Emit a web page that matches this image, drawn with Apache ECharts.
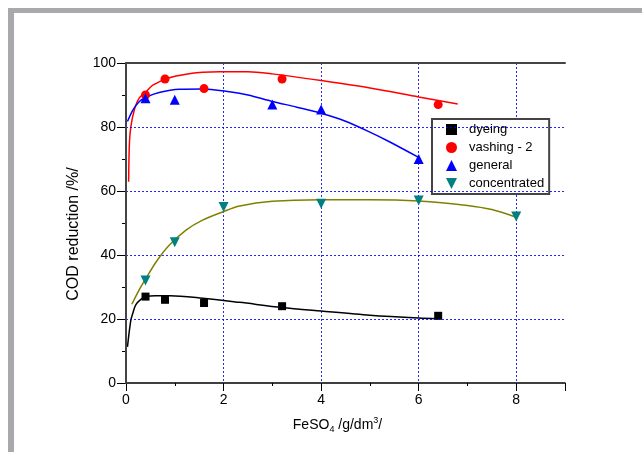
<!DOCTYPE html>
<html>
<head>
<meta charset="utf-8">
<script src="https://cdn.jsdelivr.net/npm/echarts@6/dist/echarts.min.js"></script>
<style>
html, body { margin: 0; padding: 0; background: #fff; }
#chart { width: 642px; height: 452px; }
</style>
</head>
<body>
<div id="chart"></div>
<script>
// measured points [FeSO4, COD reduction]
const dyeing = [[0.4, 27], [0.8, 26], [1.6, 25], [3.2, 24], [6.4, 21]]
const vashing = [[0.4, 90], [0.8, 95], [1.6, 92], [3.2, 95], [6.4, 87]]
const general = [[0.4, 89], [1.0, 88.5], [3.0, 87], [4.0, 85.5], [6.0, 70]]
const concentrated = [[0.4, 32], [1.0, 44], [2.0, 55], [4.0, 56], [6.0, 57], [8.0, 52]]

// fitted curves
const dyeingFit = [[0.03, 11.3], [0.1, 19.7], [0.14, 21.8], [0.2, 24.4], [0.31, 26.2], [0.41, 27], [0.6, 27.3], [0.9, 27.3],
  [1.57, 26.5], [2.33, 25.2], [3.2, 23.6], [4, 22.5], [5, 21.2], [6, 20.3], [6.4, 20.1]]
const vashingFit = [[0.054, 62.9], [0.07, 74.9], [0.1, 80.1], [0.17, 85.3], [0.27, 89], [0.41, 91], [0.55, 93.1], [0.89, 95.4],
  [1.23, 96.5], [1.57, 97.1], [1.92, 97.3], [2.5, 97.3], [3, 96.6], [4, 94.5], [5, 92.2], [6, 89.4], [6.8, 87.2]]
const generalFit = [[0.03, 81.7], [0.14, 85.3], [0.27, 87.9], [0.41, 89.3], [0.68, 90.8], [1.1, 91.8], [1.57, 91.9], [2.12, 91],
  [2.5, 90], [3, 88], [3.5, 86.2], [4, 84.3], [4.5, 81.8], [5, 78.4], [5.4, 75.4], [6, 70.5]]
const concentratedFit = [[0.12, 24.6], [0.27, 29.1], [0.41, 32.7], [0.62, 37.9], [0.89, 43.1], [1.23, 47.8], [1.57, 50.9],
  [1.99, 53.5], [2.33, 55.3], [3, 56.8], [4, 57.3], [5, 57.3], [6, 56.9], [7, 55.5], [7.5, 54.2], [8, 51.8]]

const FONT = '"Liberation Sans", Arial, sans-serif'
const gridLine = { show: true, showMinLine: false, showMaxLine: false, lineStyle: { color: '#0000ff', type: [2, 2], width: 1, opacity: 0.85 } }

function fitSeries (data, color) {
  return {
    type: 'line', data: data, smooth: 0.3, symbol: 'none', silent: true,
    lineStyle: { color: color, width: 1.5 }, z: 3
  }
}
function pointSeries (name, data, symbol, size, color, rotate) {
  return {
    name: name, type: 'scatter', data: data, symbol: symbol, symbolSize: size,
    symbolRotate: rotate || 0, itemStyle: { color: color, opacity: 1 }, z: 4
  }
}

const chart = echarts.init(document.getElementById('chart'))
chart.setOption({
  backgroundColor: '#fff',
  animation: false,
  textStyle: { fontFamily: FONT },
  graphic: [
    { type: 'rect', left: 8, top: 8, shape: { width: 634, height: 5 }, style: { fill: '#a9a9ad' } },
    { type: 'rect', left: 8, top: 8, shape: { width: 6, height: 444 }, style: { fill: '#a9a9ad' } }
  ],
  grid: { left: 126, right: 77, top: 63, bottom: 69 },
  legend: {
    orient: 'vertical', left: 432, top: 119,
    backgroundColor: '#fff', borderColor: '#444', borderWidth: 2,
    padding: [4, 5, 4, 14], itemWidth: 11, itemHeight: 11, itemGap: 5,
    textStyle: { fontSize: 13, color: '#000', fontFamily: FONT, padding: [0, 0, 0, 7] },
    data: [
      { name: 'dyeing', icon: 'rect' },
      { name: 'vashing - 2', icon: 'circle' },
      { name: 'general', icon: 'triangle' },
      { name: 'concentrated', icon: 'path://M0,0L10,0L5,10Z' }
    ]
  },
  xAxis: [
    {
      type: 'value', min: 0, max: 9, interval: 1, position: 'bottom',
      axisLine: { lineStyle: { color: '#000', width: 1.5 } },
      axisTick: { length: 3, lineStyle: { color: '#000' } },
      axisLabel: { fontSize: 14, color: '#000', margin: 10, formatter: v => (v % 2 === 0 ? String(v) : '') },
      splitLine: { show: false },
      name: '{n|FeSO}{sub|4}{n| /g/dm}{sup|3}{n|/}',
      nameLocation: 'middle', nameGap: 33,
      nameTextStyle: {
        color: '#000', fontSize: 14, padding: [0, 16, 0, 0],
        rich: {
          n: { fontSize: 14, color: '#000', fontFamily: FONT },
          sub: { fontSize: 9, color: '#000', fontFamily: FONT, padding: [9, 0, 0, 0] },
          sup: { fontSize: 9, color: '#000', fontFamily: FONT, padding: [0, 0, 9, 0] }
        }
      },
      z: 5
    },
    {
      type: 'value', min: 0, max: 9, interval: 2, position: 'bottom',
      axisLine: { show: false },
      axisTick: { length: 8, lineStyle: { color: '#000' } },
      axisLabel: { show: false },
      splitLine: gridLine
    },
    {
      type: 'value', min: 0, max: 9, position: 'top',
      axisLine: { lineStyle: { color: '#444', width: 2 } },
      axisTick: { show: false }, axisLabel: { show: false }, splitLine: { show: false },
      z: 10
    }
  ],
  yAxis: [
    {
      type: 'value', min: 0, max: 100, interval: 20, position: 'left',
      axisLine: { show: true, lineStyle: { color: '#000', width: 1.5 } },
      axisTick: { show: true, length: 9, lineStyle: { color: '#000' } },
      minorTick: { show: true, splitNumber: 2, length: 4, lineStyle: { color: '#000' } },
      axisLabel: { fontSize: 14, color: '#000', margin: 10 },
      splitLine: gridLine,
      name: 'COD reduction /%/', nameLocation: 'middle', nameGap: 36,
      nameTextStyle: { fontSize: 16, color: '#000', padding: [0, 22, 0, 0] },
      z: 5
    },
    {
      type: 'value', min: 0, max: 100, position: 'right',
      axisLine: { show: true, lineStyle: { color: '#444', width: 2 } },
      axisTick: { show: false }, axisLabel: { show: false }, splitLine: { show: false },
      z: 10
    }
  ],
  series: [
    fitSeries(dyeingFit, '#000'),
    fitSeries(vashingFit, '#ff0000'),
    fitSeries(generalFit, '#0000ff'),
    fitSeries(concentratedFit, '#808000'),
    pointSeries('dyeing', dyeing, 'rect', 8, '#000'),
    pointSeries('vashing - 2', vashing, 'circle', 9, '#ff0000'),
    pointSeries('general', general, 'triangle', 10, '#0000ff'),
    pointSeries('concentrated', concentrated, 'triangle', 10, '#008080', 180)
  ]
})
</script>
</body>
</html>
